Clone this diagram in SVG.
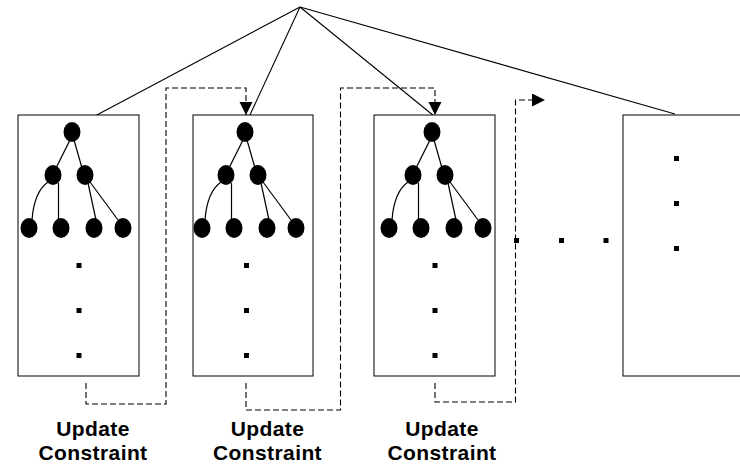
<svg xmlns="http://www.w3.org/2000/svg" width="740" height="466" viewBox="0 0 740 466">
<style>
.box{fill:#fff;stroke:#000;stroke-width:1}
.n{fill:#000}
.e{fill:none;stroke:#000;stroke-width:1.2}
.sq{fill:#000}
.ln{fill:none;stroke:#000;stroke-width:1.1}
.dash{fill:none;stroke:#000;stroke-width:1.1;stroke-dasharray:6,3}
.lbl{font-family:"Liberation Sans",Arial,sans-serif;font-weight:bold;font-size:21px;letter-spacing:0.4px;text-anchor:middle;fill:#000}
</style>
<defs>
<marker id="ah" markerWidth="14" markerHeight="14" refX="13" refY="6.5" orient="auto" markerUnits="userSpaceOnUse">
<path d="M0,0 L13,6.5 L0,13 z" fill="#000"/>
</marker>
<g id="tree">
<ellipse class="n" cx="72" cy="132" rx="8.5" ry="10"/>
<ellipse class="n" cx="53" cy="175" rx="8.5" ry="10"/>
<ellipse class="n" cx="85" cy="175" rx="8.5" ry="10"/>
<ellipse class="n" cx="29" cy="228" rx="8.5" ry="10"/>
<ellipse class="n" cx="61" cy="228" rx="8.5" ry="10"/>
<ellipse class="n" cx="94" cy="228" rx="8.5" ry="10"/>
<ellipse class="n" cx="123" cy="228" rx="8.5" ry="10"/>
<line class="e" x1="70" y1="140" x2="56" y2="168"/>
<line class="e" x1="74" y1="140" x2="82" y2="168"/>
<path class="e" d="M48,182 Q34,192 32,220"/>
<line class="e" x1="58.5" y1="183" x2="58.5" y2="220"/>
<line class="e" x1="88" y1="183" x2="96" y2="220"/>
<line class="e" x1="90" y1="182" x2="118" y2="220"/>
</g>
</defs>
<g id="connectors">
<line class="ln" x1="300" y1="7" x2="78" y2="125"/>
<line class="ln" x1="300" y1="7" x2="249" y2="117"/>
<line class="ln" x1="300" y1="7" x2="434" y2="116"/>
<line class="ln" x1="300" y1="7" x2="675" y2="114"/>
<path class="dash" d="M86,383 V404 H166 V88 H246 V115" marker-end="url(#ah)"/>
<path class="dash" d="M246,383 V410 H340.5 V88 H435 V115" marker-end="url(#ah)"/>
<path class="dash" d="M435,383 V402 H515.5 V100 H545" marker-end="url(#ah)"/>
</g>
<g id="box1">
<rect class="box" x="18" y="115" width="121" height="261"/>
<use href="#tree"/>
<rect class="sq" x="76.5" y="263" width="5" height="5"/>
<rect class="sq" x="76.5" y="308" width="5" height="5"/>
<rect class="sq" x="76.5" y="353" width="5" height="5"/>
</g>
<g id="box2">
<rect class="box" x="193" y="115" width="120" height="261"/>
<use href="#tree" transform="translate(173,0)"/>
<rect class="sq" x="244" y="263" width="5" height="5"/>
<rect class="sq" x="244" y="308" width="5" height="5"/>
<rect class="sq" x="244" y="353" width="5" height="5"/>
</g>
<g id="box3">
<rect class="box" x="374" y="115" width="121" height="261"/>
<use href="#tree" transform="translate(360,0)"/>
<rect class="sq" x="432.5" y="263" width="5" height="5"/>
<rect class="sq" x="432.5" y="308" width="5" height="5"/>
<rect class="sq" x="432.5" y="353" width="5" height="5"/>
</g>
<g id="ellipsis">
<rect class="sq" x="514" y="238" width="5" height="5"/>
<rect class="sq" x="559" y="238" width="5" height="5"/>
<rect class="sq" x="603.5" y="238" width="5" height="5"/>
</g>
<g id="box4">
<rect class="box" x="623" y="115" width="130" height="261"/>
<rect class="sq" x="674" y="156" width="5" height="5"/>
<rect class="sq" x="674" y="201" width="5" height="5"/>
<rect class="sq" x="674" y="246" width="5" height="5"/>
</g>
<g id="labels">
<text class="lbl" x="93" y="436">Update</text>
<text class="lbl" x="93" y="460">Constraint</text>
<text class="lbl" x="267.5" y="436">Update</text>
<text class="lbl" x="267.5" y="460">Constraint</text>
<text class="lbl" x="442" y="436">Update</text>
<text class="lbl" x="442" y="460">Constraint</text>
</g>
</svg>
